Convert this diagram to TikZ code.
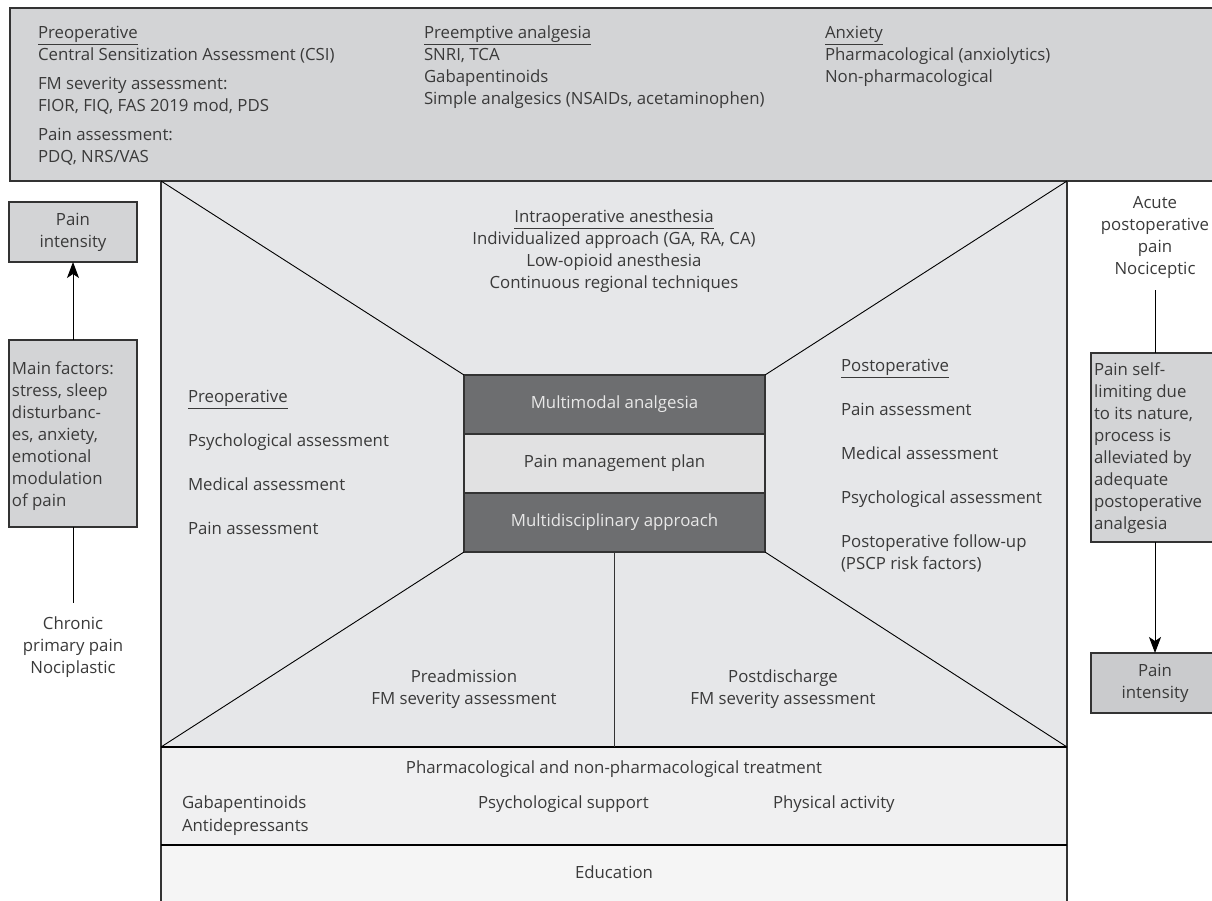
\documentclass[tikz,border=0pt]{standalone}
\usepackage{fontspec}
\setmainfont{Open Sans}
\usetikzlibrary{arrows.meta}
\definecolor{txt}{HTML}{3A3A3A}
\definecolor{bordercol}{HTML}{333333}
\definecolor{topgray}{HTML}{D3D4D6}
\definecolor{maingray}{HTML}{E6E7E9}
\definecolor{darkrow}{HTML}{6D6E70}
\definecolor{midrow}{HTML}{E1E1E2}
\definecolor{pharmgray}{HTML}{F0F0F1}
\definecolor{edugray}{HTML}{F5F5F5}
\definecolor{sidegray}{HTML}{D3D4D6}
\definecolor{sidegraydk}{HTML}{CACBCD}
\definecolor{lighttxt}{HTML}{E8E8E8}
\begin{document}
\begin{tikzpicture}[x=1pt,y=-1pt,
  every node/.style={font=\fontsize{16.8}{22}\selectfont, text=txt, outer sep=0pt},
  panel/.style={draw=bordercol, line width=1.2pt, anchor=north west, inner sep=0pt},
  lbl/.style={anchor=north west, align=left, inner sep=0pt},
  clbl/.style={align=center, inner sep=0pt},
  rowbox/.style={draw=bordercol, line width=1.2pt, minimum width=301pt, minimum height=59pt, inner sep=0pt},
  sidebox/.style={draw=bordercol, line width=1.2pt, fill=sidegray, minimum width=128pt, inner sep=0pt},
  thinline/.style={draw=black, line width=0.9pt},
  arr/.style={draw=black, line width=1pt, -{Stealth[length=16pt,width=12pt,inset=4pt]}}
]
\useasboundingbox (0,0) rectangle (1212,900);

% main framework boxes
\node[panel, fill=maingray, minimum width=906pt, minimum height=566pt] (mainbox) at (161,181) {};
\node[panel, fill=pharmgray, minimum width=906pt, minimum height=98pt] (pharmbox) at (161,747) {};
\node[panel, fill=edugray, minimum width=906pt, minimum height=70pt] (edubox) at (161,845) {};
\draw[black, line width=2pt] (pharmbox.north west) -- (pharmbox.north east);
\draw[black, line width=1.5pt] (edubox.north west) -- (edubox.north east);
\node[panel, fill=topgray, minimum width=1215pt, minimum height=173pt] (topbox) at (10,8) {};

% central stacked box
\node[rowbox, fill=darkrow, text=lighttxt] (mm) at (614.5,404.5) {Multimodal analgesia};
\node[rowbox, fill=midrow] (pmp) at (614.5,463.5) {Pain management plan};
\node[rowbox, fill=darkrow, text=lighttxt] (md) at (614.5,522.5) {Multidisciplinary approach};

% diagonals
\draw[thinline] (mainbox.north west) -- (mm.north west);
\draw[thinline] (mainbox.north east) -- (mm.north east);
\draw[thinline] (mainbox.south west) -- (md.south west);
\draw[thinline] (mainbox.south east) -- (md.south east);
\draw[draw=bordercol, line width=1.3pt] (md.south) -- (md.south |- mainbox.south);

% top box texts
\node[lbl] (tpre) at (38,26) {\underline{Preoperative}\\
Central Sensitization Assessment (CSI)\\[7pt]
FM severity assessment:\\
FIOR, FIQ, FAS 2019 mod, PDS\\[7pt]
Pain assessment:\\
PDQ, NRS/VAS};
\node[lbl] (tpreem) at (424,26) {\underline{Preemptive analgesia}\\
SNRI, TCA\\
Gabapentinoids\\
Simple analgesics (NSAIDs, acetaminophen)};
\node[lbl] (tanx) at (825,26) {\underline{Anxiety}\\
Pharmacological (anxiolytics)\\
Non-pharmacological};

% intraoperative
\node[clbl, anchor=north] (intra) at (614,210) {\underline{Intraoperative anesthesia}\\
Individualized approach (GA, RA, CA)\\
Low-opioid anesthesia\\
Continuous regional techniques};

% left preoperative
\node[lbl] (lpre) at (188,390) {\underline{Preoperative}\\[22pt]
Psychological assessment\\[22pt]
Medical assessment\\[22pt]
Pain assessment};

% right postoperative
\node[lbl] (rpost) at (841,359) {\underline{Postoperative}\\[22pt]
Pain assessment\\[22pt]
Medical assessment\\[22pt]
Psychological assessment\\[22pt]
Postoperative follow-up\\
(PSCP risk factors)};

% bottom triangles
\node[clbl] (preadm) at (464,689) {Preadmission\\FM severity assessment};
\node[clbl] (postdis) at (783,689) {Postdischarge\\FM severity assessment};

% pharmacological box
\node[clbl] (pharmtitle) at (614,769) {Pharmacological and non-pharmacological treatment};
\node[lbl] (gaba) at (182,796) {Gabapentinoids\\[1pt]Antidepressants};
\node[lbl] (psysup) at (478,796) {Psychological support};
\node[lbl] (phys) at (773,796) {Physical activity};

% education
\node[clbl] (edu) at (614,872) {Education};

% left side
\node[sidebox, minimum height=60pt, align=center] (lpi) at (73,232) {Pain\\intensity};
\node[sidebox, minimum height=187pt] (mf) at (73,433.5) {};
\node[lbl] (mftxt) at (12,362) {Main factors:\\
stress, sleep\\
disturbanc-\\
es, anxiety,\\
emotional\\
modulation\\
of pain};
\node[clbl] (chronic) at (73,647) {Chronic\\primary pain\\Nociplastic};
\draw[arr] (mf.north) -- (lpi.south);
\draw[thinline, shorten <=14pt] (chronic.north) -- (mf.south);

% right side
\node[clbl] (acute) at (1155,237) {Acute\\postoperative\\pain\\Nociceptic};
\node[sidebox, minimum height=189pt] (selflim) at (1155,447.5) {};
\node[lbl] (selftxt) at (1094,363) {Pain self-\\
limiting due\\
to its nature,\\
process is\\
alleviated by\\
adequate\\
postoperative\\
analgesia};
\node[sidebox, fill=sidegraydk, minimum height=60pt, align=center] (rpi) at (1155,683) {Pain\\intensity};
\draw[thinline, shorten <=12pt] (acute.south) -- (selflim.north);
\draw[arr] (selflim.south) -- (rpi.north);
\end{tikzpicture}
\end{document}
